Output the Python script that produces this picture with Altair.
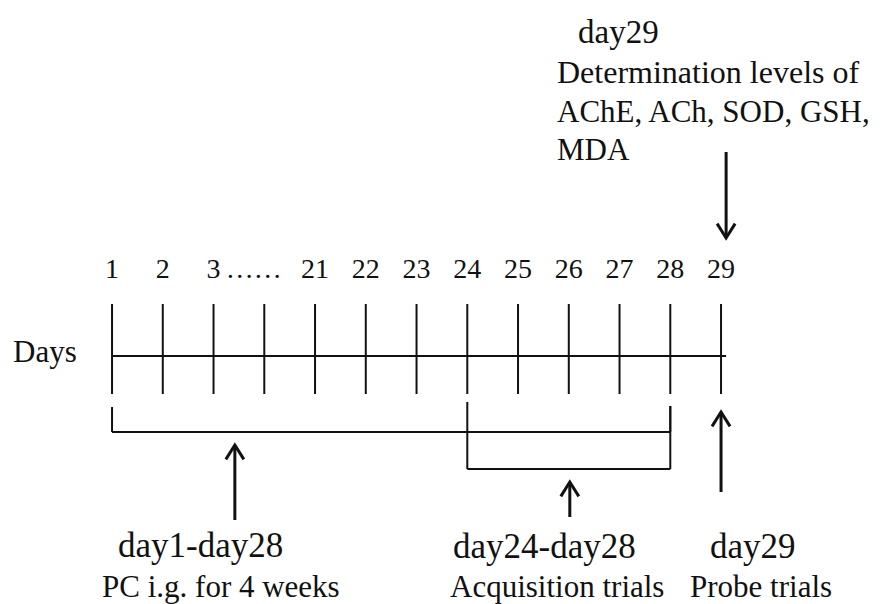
import altair as alt
import pandas as pd

# ---- values -------------------------------------------------------------
day_index = list(range(13))
day_labels = ["1", "2", "3", "", "21", "22", "23", "24", "25", "26", "27", "28", "29"]
ellipsis_label = "……"
ellipsis_pos = 2.79

ann_text = [
    "Days",
    "day29",
    "Determination levels of",
    "AChE, ACh, SOD, GSH,",
    "MDA",
    "day1-day28",
    "PC i.g. for 4 weeks",
    "day24-day28",
    "Acquisition trials",
    "day29",
    "Probe trials",
]
ann_x = [-1.951, 9.182, 8.768, 8.768, 8.768, 0.118, -0.197, 6.719, 6.660, 11.783, 11.389]
ann_y = [362, 43, 83, 122, 160, 557, 597, 558, 597, 558, 597]
ann_fs = [31, 33, 32, 31, 31, 35, 31, 35, 31, 35, 31]

AXIS_Y = 356
TICK_TOP, TICK_BOT = 304, 394
LABEL_Y = 278
AXIS_END = 12.1

bracket_start = [0, 7]
bracket_end = [11, 11]
bracket_top = [407, 402]
bracket_bot = [432, 469]

arrow_x = [2.42, 9.02, 12.0, 12.1]
arrow_tail = [520, 517, 492, 152]
arrow_tip = [445, 482, 412, 238]

segs = [dict(x=0, x2=AXIS_END, y=AXIS_Y, y2=AXIS_Y)]
for i in day_index:
    segs.append(dict(x=i, x2=i, y=TICK_TOP, y2=TICK_BOT))
for s, e, t, b in zip(bracket_start, bracket_end, bracket_top, bracket_bot):
    segs.append(dict(x=s, x2=s, y=t, y2=b))
    segs.append(dict(x=s, x2=e, y=b, y2=b))
    segs.append(dict(x=e, x2=e, y=406, y2=b))
segs_df = pd.DataFrame(segs)

shaft_df = pd.DataFrame(dict(x=arrow_x, x2=arrow_x, y=arrow_tail, y2=arrow_tip))
up_df = pd.DataFrame([dict(x=x, y=tip) for x, t, tip in zip(arrow_x, arrow_tail, arrow_tip) if tip < t])
down_df = pd.DataFrame([dict(x=x, y=tip) for x, t, tip in zip(arrow_x, arrow_tail, arrow_tip) if tip > t])

tick_lab_df = pd.DataFrame(dict(x=day_index + [ellipsis_pos],
                                y=[LABEL_Y] * 14,
                                t=day_labels + [ellipsis_label]))
ann_df = pd.DataFrame(dict(x=ann_x, y=ann_y, t=ann_text, fs=ann_fs))

W, H = 865, 596
xs = alt.Scale(domain=[-2.05, -2.05 + W / 50.75], nice=False, zero=False)
ys = alt.Scale(domain=[8, 8 + H], reverse=True, nice=False, zero=False)
X = lambda f="x": alt.X(f"{f}:Q", scale=xs, axis=None)
Y = lambda f="y": alt.Y(f"{f}:Q", scale=ys, axis=None)

INK = "#111111"
FONT = "Liberation Serif"

lines = alt.Chart(segs_df).mark_rule(color=INK, strokeWidth=2).encode(
    x=X(), x2="x2:Q", y=Y(), y2="y2:Q")
shafts = alt.Chart(shaft_df).mark_rule(color=INK, strokeWidth=3).encode(
    x=X(), x2="x2:Q", y=Y(), y2="y2:Q")
up_heads = alt.Chart(up_df).mark_point(
    shape="M-1,1.6L0,0L1,1.6", filled=False, size=324, strokeWidth=3,
    color=INK, opacity=1, strokeJoin="miter").encode(x=X(), y=Y())
down_heads = alt.Chart(down_df).mark_point(
    shape="M-1,-1.6L0,0L1,-1.6", filled=False, size=324, strokeWidth=3,
    color=INK, opacity=1, strokeJoin="miter").encode(x=X(), y=Y())

tick_labels = alt.Chart(tick_lab_df).mark_text(
    fontSize=28, baseline="alphabetic", align="center",
    color=INK).encode(x=X(), y=Y(), text="t:N")
annotations = alt.Chart(ann_df).mark_text(
    baseline="alphabetic", align="left",
    color=INK).encode(x=X(), y=Y(), text="t:N",
                      size=alt.Size("fs:Q", scale=None, legend=None))

chart = alt.layer(lines, shafts, up_heads, down_heads, tick_labels, annotations).properties(
    width=W, height=H, padding=0, autosize=alt.AutoSizeParams(type="none"),
    background="white"
).configure_view(stroke=None).configure_text(font=FONT)

chart.save("out.html", embed_options={"renderer": "svg", "actions": False})
